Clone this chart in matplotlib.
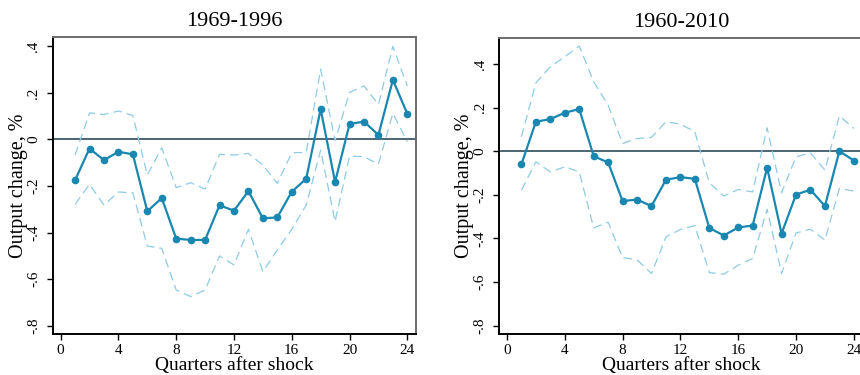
"""
Respuesta del producto a un shock: dos submuestras (1969-1996 y 1960-2010).
"""
import numpy as np
import matplotlib
matplotlib.use("Agg")
import matplotlib.pyplot as plt
from matplotlib.ticker import FuncFormatter

plt.rcParams["font.family"] = ["Liberation Serif", "DejaVu Serif"]

QUARTERS = list(range(1, 25))

# ── 1969-1996 ────────────────────────────────────────────────────────────────
IRF_A = [-0.175, -0.039, -0.089, -0.053, -0.064, -0.309, -0.252, -0.426,
         -0.432, -0.432, -0.283, -0.306, -0.222, -0.339, -0.335, -0.225,
         -0.169, 0.130, -0.183, 0.066, 0.077, 0.019, 0.256, 0.110]
UPPER_A = [-0.067, 0.114, 0.107, 0.122, 0.103, -0.153, -0.036, -0.207,
           -0.186, -0.213, -0.064, -0.067, -0.060, -0.110, -0.189, -0.057,
           -0.056, 0.302, -0.006, 0.202, 0.230, 0.150, 0.400, 0.229]
LOWER_A = [-0.279, -0.193, -0.282, -0.226, -0.229, -0.458, -0.468, -0.647,
           -0.675, -0.647, -0.501, -0.539, -0.386, -0.568, -0.475, -0.386,
           -0.282, -0.046, -0.353, -0.072, -0.074, -0.106, 0.112, -0.010]

# ── 1960-2010 ────────────────────────────────────────────────────────────────
IRF_B = [-0.060, 0.135, 0.147, 0.176, 0.193, -0.023, -0.052, -0.229,
         -0.222, -0.252, -0.131, -0.119, -0.127, -0.352, -0.387, -0.350,
         -0.341, -0.076, -0.378, -0.199, -0.177, -0.252, 0.000, -0.043]
UPPER_B = [0.066, 0.313, 0.387, 0.433, 0.482, 0.318, 0.211, 0.035,
           0.058, 0.063, 0.135, 0.124, 0.089, -0.145, -0.206, -0.176,
           -0.187, 0.107, -0.191, -0.026, -0.008, -0.087, 0.162, 0.104]
LOWER_B = [-0.179, -0.049, -0.095, -0.072, -0.095, -0.352, -0.326, -0.488,
           -0.498, -0.561, -0.393, -0.359, -0.341, -0.557, -0.564, -0.523,
           -0.492, -0.266, -0.561, -0.375, -0.358, -0.408, -0.171, -0.183]

TITLES = ["1969-1996", "1960-2010"]
X_TICKS = [0, 4, 8, 12, 16, 20, 24]
Y_TICKS = [-0.8, -0.6, -0.4, -0.2, 0, 0.2, 0.4]

C_MAIN = "#1a87b1"
C_BAND = "#8fcbe6"
C_ZERO = "#1d3c4c"


def stata_fmt(v, pos):
    if abs(v) < 1e-9:
        return "0"
    s = f"{v:.1f}"
    return s.replace("0.", ".")


def panel(ax, titulo, irf, upper, lower, ylim):
    ax.axhline(0, color=C_ZERO, lw=1.1, zorder=1)
    ax.plot(QUARTERS, upper, color=C_BAND, lw=0.9, dashes=(7, 4), zorder=2)
    ax.plot(QUARTERS, lower, color=C_BAND, lw=0.9, dashes=(7, 4), zorder=2)
    ax.plot(QUARTERS, irf, "o-", color=C_MAIN, lw=1.6, ms=4.5, zorder=3)
    ax.set_xlim(-0.53, 24.6)
    ax.set_ylim(*ylim)
    ax.set_xticks(X_TICKS)
    ax.set_yticks(Y_TICKS)
    ax.yaxis.set_major_formatter(FuncFormatter(stata_fmt))
    ax.tick_params(axis="both", direction="out", length=4, width=1,
                   labelsize=11, color="black")
    ax.tick_params(axis="y", pad=5)
    for lbl in ax.get_yticklabels():
        lbl.set_rotation(90)
        lbl.set_va("center")
    ax.set_title(titulo, fontsize=16, pad=8)
    ax.set_xlabel("Quarters after shock", fontsize=14, labelpad=0)
    ax.set_ylabel("Output change, %", fontsize=14.5, va="center")
    ax.yaxis.set_label_coords(-0.095, 0.5)
    for lado in ["left", "bottom"]:
        ax.spines[lado].set_color("black")
        ax.spines[lado].set_linewidth(1.4)
    for lado in ["top", "right"]:
        ax.spines[lado].set_color("#6b6b6b")
        ax.spines[lado].set_linewidth(1.4)


def main():
    fig = plt.figure(figsize=(8.6, 3.75), dpi=100)
    ax1 = fig.add_axes([0.0616, 0.1093, 0.4221, 0.792])
    ax2 = fig.add_axes([0.5806, 0.1101, 0.4223, 0.7893])

    panel(ax1, TITLES[0], IRF_A, UPPER_A, LOWER_A, (-0.836, 0.44))
    panel(ax2, TITLES[1], IRF_B, UPPER_B, LOWER_B, (-0.837, 0.52))

    fig.savefig("out.png", dpi=100)
    plt.close(fig)


if __name__ == "__main__":
    main()
